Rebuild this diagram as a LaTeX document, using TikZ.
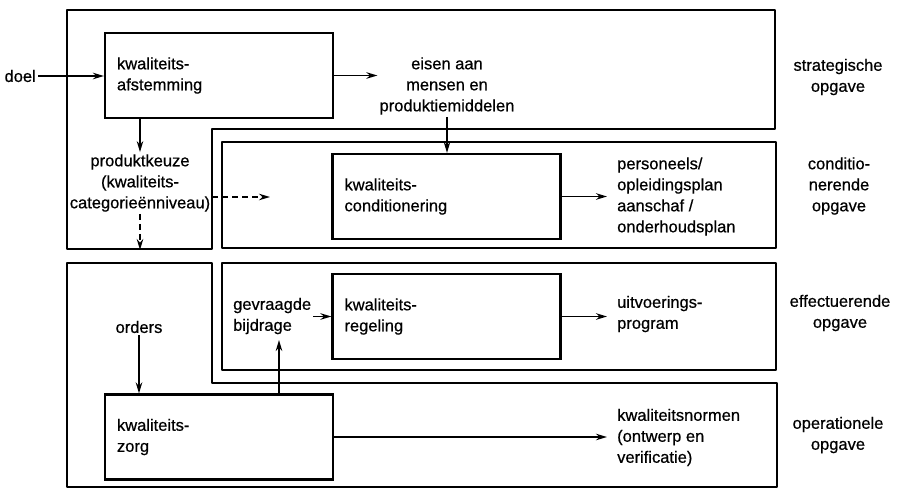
\documentclass[tikz,border=0pt]{standalone}
\usepackage{fontspec}
\setmainfont{Liberation Sans}[FakeBold=0.6]
\usetikzlibrary{arrows.meta}
\begin{document}
\begin{tikzpicture}[x=1pt,y=-1pt,
  every node/.style={font=\fontsize{16.5}{21}\selectfont},
  region/.style={line width=2.2pt, line join=round},
  qbox/.style={draw, line width=2.2pt, text width=204pt, inner xsep=12pt, inner ysep=0pt, minimum height=85pt, align=left},
  txt/.style={inner sep=2pt},
  lefttxt/.style={inner xsep=10pt, inner ysep=2pt, align=left},
  levtxt/.style={inner sep=2pt, align=center},
  flow/.style={line width=1.7pt, -{Stealth[length=11pt,width=6.5pt]}},
  dflow/.style={flow, dash pattern=on 6pt off 4pt}
]
\useasboundingbox (0,0) rectangle (899,490);
% regions
\draw[region] (67,10) -- (775,10) -- (775,129) -- (212,129) -- (212,249) -- (67,249) -- cycle;
\draw[region] (222,142) rectangle (776,248);
\draw[region] (222,263) rectangle (776,370);
\draw[region] (67,263) -- (212,263) -- (212,383) -- (777,383) -- (777,487) -- (67,487) -- cycle;

% boxes
\node[qbox] (afst) at (219,75.5) {kwaliteits-\\afstemming};
\node[qbox] (cond) at (446.5,196.5) {kwaliteits-\\conditionering};
\node[qbox] (reg) at (446.5,316.5) {kwaliteits-\\regeling};
\node[qbox] (zorg) at (219,437) {kwaliteits-\\zorg};

% texts
\node[txt, anchor=east] (doel) at (38,76) {doel};
\node[levtxt] (eisen) at (447,86) {eisen aan\\mensen en\\produktiemiddelen};
\node[levtxt] (keuze) at (140,183) {produktkeuze\\(kwaliteits-\\categorieënniveau)};
\node[lefttxt, anchor=west] (pers) at (607,196.5) {personeels/\\opleidingsplan\\aanschaf /\\onderhoudsplan};
\node[lefttxt, anchor=west] (uitv) at (607,314) {uitvoerings-\\program};
\node[lefttxt, anchor=west] (norm) at (607,437.5) {kwaliteitsnormen\\(ontwerp en\\verificatie)};
\node[txt, align=left, anchor=west] (gevr) at (231,316) {gevraagde\\bijdrage};
\node[txt] (orders) at (139,327) {orders};
\node[levtxt] (strat) at (838,77) {strategische\\opgave};
\node[levtxt] (condl) at (839,186) {conditio-\\nerende\\opgave};
\node[levtxt] (effl) at (840,313) {effectuerende\\opgave};
\node[levtxt] (operl) at (838,435) {operationele\\opgave};

\coordinate (dashend) at (270,197);
\coordinate (keuzeend) at (140,250);
\coordinate (gup) at (279,340);

% connectors
\draw[flow] (doel.east) -- (afst.west |- doel.east);
\draw[flow] (afst.east) -- (afst.east -| eisen.west);
\draw[flow] (eisen.south) -- (eisen.south |- cond.north);
\draw[flow] (keuze.north |- afst.south) -- (keuze.north);
\draw[dflow] (dashend -| keuze.east) -- (dashend);
\draw[dflow] (keuze.south) -- (keuzeend);
\draw[flow] (cond.east) -- (cond.east -| pers.west);
\draw[flow] (reg.east) -- (reg.east -| uitv.west);
\draw[flow] (zorg.east) -- (zorg.east -| norm.west);
\draw[flow] (gevr.east |- reg.west) -- (reg.west);
\draw[flow] (gup |- zorg.north) -- (gup);
\draw[flow] (orders.south) -- (orders.south |- zorg.north);
\end{tikzpicture}
\end{document}
